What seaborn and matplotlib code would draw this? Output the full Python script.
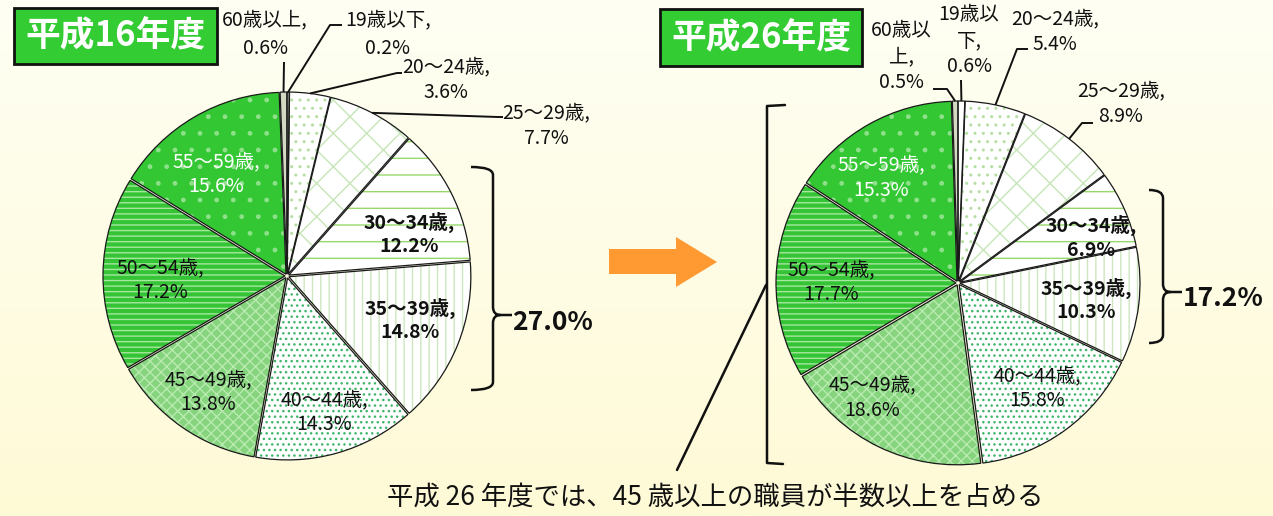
import numpy as np
import matplotlib
matplotlib.use("Agg")
import matplotlib.pyplot as plt
import seaborn as sns
from matplotlib.patches import Rectangle, Polygon, PathPatch
from matplotlib.path import Path
from matplotlib.colors import LinearSegmentedColormap

# ---------------- data ----------------
age_groups = ["19歳以下", "20〜24歳", "25〜29歳", "30〜34歳", "35〜39歳",
              "40〜44歳", "45〜49歳", "50〜54歳", "55〜59歳", "60歳以上"]
share_h16 = [0.2, 3.6, 7.7, 12.2, 14.8, 14.3, 13.8, 17.2, 15.6, 0.6]
share_h26 = [0.6, 5.4, 8.9, 6.9, 10.3, 15.8, 18.6, 17.7, 15.3, 0.5]
titles = ["平成16年度", "平成26年度"]
bracket_totals = ["27.0%", "17.2%"]
footnote = "平成 26 年度では、45 歳以上の職員が半数以上を占める"

# ---------------- style ----------------
sns.set_theme(style="white")
plt.rcParams['font.family'] = ['Noto Sans CJK JP', 'DejaVu Sans']
plt.rcParams['hatch.linewidth'] = 1.0

W, H = 1273, 516
fig = plt.figure(figsize=(12.73, 5.16), dpi=100)
ax = fig.add_axes([0, 0, 1, 1])

# background gradient
bg = LinearSegmentedColormap.from_list("bg", ["#fffff4", "#fefad6"])
ax.imshow(np.linspace(0, 1, 256).reshape(-1, 1), cmap=bg, extent=[0, W, 0, H],
          aspect='auto', zorder=0, origin='upper')

# fill styles per age group: (face, hatch, hatch colour)
styles = [
    ("#ffffff", "", "#ffffff"),
    ("#ffffff", "..", "#b6dea4"),
    ("#ffffff", "x", "#c6e6b8"),
    ("#ffffff", "-", "#96d86a"),
    ("#ffffff", "||", "#cde6bf"),
    ("#ffffff", "...", "#3fb56a"),
    ("#86d47e", "xxx", "#b9ebb0"),
    ("#35c435", "---", "#a6e89e"),
    ("#33c833", ".", "#8fe08a"),
    ("#d3d9c3", "", "#d3d9c3"),
]
face_h16_19 = "#c8ccb8"

pies = [
    dict(values=share_h16, cx=287, cy=276, r=182),
    dict(values=share_h26, cx=958, cy=283, r=180),
]

label_layout = [
    # (x, first line y, colour, weight) per age group
    [
        (388, 20, "#111111", "normal"), (446, 67, "#111111", "normal"),
        (546, 113, "#111111", "normal"), (409, 222, "#111111", "bold"),
        (410, 308, "#111111", "bold"), (324, 400, "#111111", "normal"),
        (208, 380, "#111111", "normal"), (160, 268, "#111111", "normal"),
        (216, 162, "#ffffff", "normal"), (265, 20, "#111111", "normal"),
    ],
    [
        (969, 15, "#111111", "normal"), (1055, 19, "#111111", "normal"),
        (1121, 91, "#111111", "normal"), (1091, 225, "#111111", "bold"),
        (1086, 288, "#111111", "bold"), (1037, 376, "#111111", "normal"),
        (872, 385, "#111111", "normal"), (831, 270, "#111111", "normal"),
        (881, 165, "#ffffff", "normal"), (901, 31, "#111111", "normal"),
    ],
]
# age groups whose labels wrap onto three lines (narrow space)
three_line = [set(), {0, 9}]
leaders = [
    {9: [(284, 62)], 0: [(330, 25), (342, 25)], 1: [(397, 73), (402, 73)],
     2: [(498, 117), (503, 117)]},
    {9: [(947, 89), (933, 89)], 0: [(961, 80)], 1: [(1017, 49), (1028, 49)],
     2: [(1082, 123), (1093, 123)]},
]

def Y(y):
    return H - y

def put(lines, x, y0, dy=25, **kw):
    for i, s in enumerate(lines):
        ax.text(x, Y(y0 + i * dy), s, ha='center', va='center', zorder=6, **kw)

for p_i, p in enumerate(pies):
    vals = p["values"]
    center = (p["cx"], Y(p["cy"]))
    explode = [2.0] * len(vals)
    wedges, _ = ax.pie(vals, startangle=90, counterclock=False, center=center,
                       radius=p["r"], explode=explode)
    for k, w in enumerate(wedges):
        face, hatch, hc = styles[k]
        if p_i == 0 and k == 0:
            face = face_h16_19
        w.set_facecolor(face)
        w.set_hatch(hatch)
        w.set_edgecolor(hc)
        w.set_linewidth(0)
        w.set_zorder(2)
    outl, _ = ax.pie(vals, startangle=90, counterclock=False, center=center,
                     radius=p["r"], explode=explode,
                     wedgeprops=dict(facecolor="none", edgecolor="#1a1a1a",
                                     linewidth=0.9))
    for w in outl:
        w.set_zorder(3)

    # labels
    for k, name in enumerate(age_groups):
        x, y0, col, wt = label_layout[p_i][k]
        pct = f"{vals[k]:.1f}%"
        if k in three_line[p_i]:
            lines = [name[:4], name[4:] + ",", pct]
            dy = 26
        else:
            lines = [name + ",", pct]
            dy = 25 if (k not in (0, 9) or p_i) else 28
        put(lines, x, y0, dy=dy, fontsize=14, color=col, fontweight=wt)

    # leader lines from wedge mid-angle on the rim
    for k, pts in leaders[p_i].items():
        w = wedges[k]
        th = np.deg2rad((w.theta1 + w.theta2) / 2)
        sx = w.center[0] + w.r * np.cos(th)
        sy = w.center[1] + w.r * np.sin(th)
        xs = [sx] + [q[0] for q in pts]
        ys = [sy] + [Y(q[1]) for q in pts]
        ax.plot(xs, ys, color="#111111", lw=1.4, zorder=5,
                solid_capstyle='butt')

# title boxes
for (x0, y0, x1, y1), t in zip([(14, 8, 217, 64), (660, 9, 862, 66)], titles):
    ax.add_patch(Rectangle((x0, Y(y1)), x1 - x0, y1 - y0, facecolor="#33cc33",
                           edgecolor="#111111", lw=2, zorder=5))
    ax.text((x0 + x1) / 2, Y((y0 + y1) / 2), t, ha='center', va='center',
            fontsize=25, fontweight='bold', color='white', zorder=6)

# curly brackets
def brace(x, ytop, ybot, ytip, hook, tip):
    verts = [(x - hook, Y(ytop)), (x, Y(ytop)), (x, Y(ytop + 8)),
             (x, Y(ytip - 8)), (x, Y(ytip)), (x + tip * 0.4, Y(ytip)),
             (x + tip, Y(ytip)),
             (x + tip * 0.4, Y(ytip)), (x, Y(ytip)), (x, Y(ytip + 8)),
             (x, Y(ybot - 8)), (x, Y(ybot)), (x - hook, Y(ybot))]
    codes = [Path.MOVETO, Path.CURVE3, Path.CURVE3, Path.LINETO, Path.CURVE3,
             Path.CURVE3, Path.LINETO, Path.MOVETO, Path.CURVE3, Path.CURVE3,
             Path.LINETO, Path.CURVE3, Path.CURVE3]
    ax.add_patch(PathPatch(Path(verts, codes), fill=False, lw=1.8,
                           edgecolor="#111111", zorder=5))

brace(493, 167, 390, 315, 22, 19)
brace(1163, 190, 343, 292, 14, 19)
ax.text(553, Y(322), bracket_totals[0], ha='center', va='center',
        fontsize=19, fontweight='bold', color='#111111')
ax.text(1223, Y(298), bracket_totals[1], ha='center', va='center',
        fontsize=19, fontweight='bold', color='#111111')

# left square bracket of 2nd pie + pointer line
ax.plot([785, 767, 767, 783], [Y(105), Y(106), Y(463), Y(464)],
        color="#111111", lw=1.8, zorder=5)
ax.plot([677, 766], [Y(470), Y(285)], color="#111111", lw=1.8, zorder=5)

# arrow
ax.add_patch(Polygon([(609, Y(249)), (676, Y(249)), (676, Y(237)),
                      (717, Y(262)), (676, Y(287)), (676, Y(274)),
                      (609, Y(274))], closed=True, facecolor="#ff9a33",
                     edgecolor="none", zorder=4))

# footnote
ax.text(715, Y(497), footnote, ha='center', va='center', fontsize=19,
        color='#111111')

ax.set_xlim(0, W)
ax.set_ylim(0, H)
ax.set_aspect('auto')
ax.axis('off')
fig.savefig("out.png", dpi=100)
